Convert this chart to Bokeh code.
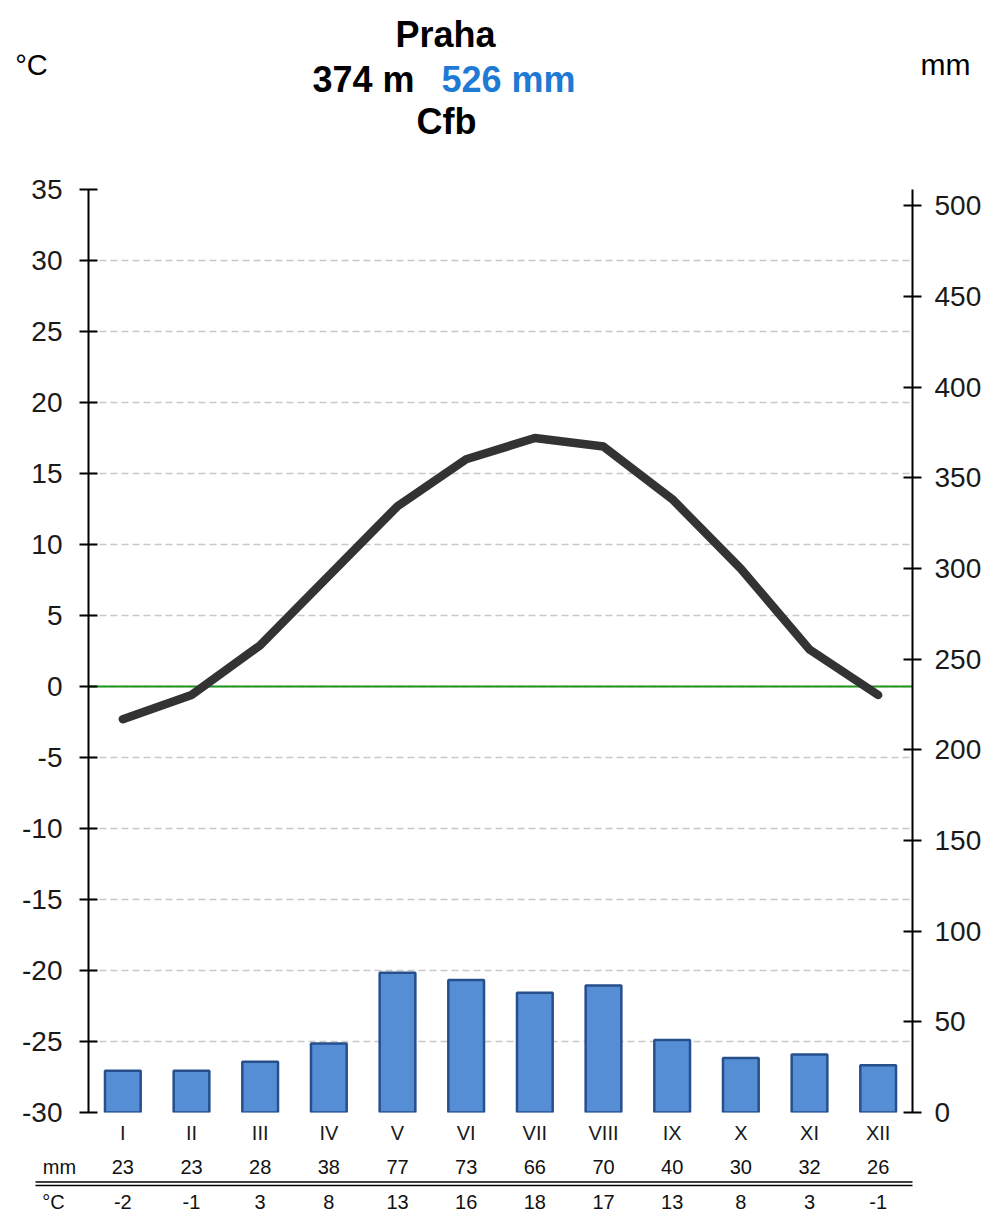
from bokeh.plotting import figure
from bokeh.models import Range1d, LinearAxis, FixedTicker, Span
from bokeh.layouts import column
from bokeh.core.properties import value
from bokeh.embed import file_html
from bokeh.resources import INLINE

# ---------------- data ----------------
station = "Praha"
elevation = "374 m"
total_precip = "526 mm"
climate = "Cfb"
months = ["I", "II", "III", "IV", "V", "VI", "VII", "VIII", "IX", "X", "XI", "XII"]
temp = [-2.3, -0.6, 2.9, 7.8, 12.7, 16.0, 17.5, 16.9, 13.2, 8.3, 2.6, -0.6]
precip = [23, 23, 28, 38, 77, 73, 66, 70, 40, 30, 32, 26]
temp_table = [-2, -1, 3, 8, 13, 16, 18, 17, 13, 8, 3, -1]
temp_ticks = list(range(-30, 36, 5))
precip_ticks = list(range(0, 501, 50))

FONT = "Liberation Sans"

# ---------------- layout constants (page pixels) ----------------
W = 985
TITLE_H = 150
FRAME_L, FRAME_R = 88, 912
FRAME_T, FRAME_B = 189, 1112
MAIN_B = 1145
TABLE_H = 68
FW = FRAME_R - FRAME_L
FH = FRAME_B - FRAME_T
PX_PER_X = FW / 12.0


def xd(page_x):
    return (page_x - FRAME_L) / PX_PER_X


xs = [i + 0.5 for i in range(len(months))]

# ---------------- title strip ----------------
tt = figure(width=W, height=TITLE_H, x_range=Range1d(0, W), y_range=Range1d(TITLE_H, 0),
            x_axis_location=None, y_axis_location=None, min_border=0,
            output_backend="svg", toolbar_location=None)
tt.frame_align = False
tt.outline_line_color = None
tt.grid.visible = False


def ttext(x, y, s, size, bold=False, color="black", align="center"):
    tt.text(x=[x], y=[y], text=[s], text_font=value(FONT), text_font_size=size,
            text_font_style="bold" if bold else "normal", text_color=color,
            text_align=align, text_baseline="middle")


ttext(445, 34, station, "36px", bold=True)
ttext(414, 79, elevation, "36px", bold=True, align="right")
ttext(441, 79, total_precip, "36px", bold=True, color="#1f7ad4", align="left")
ttext(446, 121, climate, "36px", bold=True)
ttext(31, 64, "°C", "29px")
ttext(945, 64, "mm", "30px")

# ---------------- main chart ----------------
p = figure(frame_width=FW, frame_height=FH,
           min_border_left=FRAME_L, min_border_right=W - FRAME_R,
           min_border_top=FRAME_T - TITLE_H, min_border_bottom=MAIN_B - FRAME_B,
           x_range=Range1d(0, 12), y_range=Range1d(-30, 35),
           output_backend="svg", toolbar_location=None)
p.frame_align = False
p.outline_line_color = None
p.extra_y_ranges = {"mm": Range1d(0, 509)}

p.xgrid.visible = False
p.ygrid.ticker = FixedTicker(ticks=temp_ticks)
p.ygrid.grid_line_color = "#c8c8c8"
p.ygrid.grid_line_dash = "7 4"
p.ygrid.grid_line_width = 1.6


def style_y(ax, standoff):
    ax.axis_line_color = "black"
    ax.axis_line_width = 2
    ax.major_tick_line_color = "black"
    ax.major_tick_line_width = 2
    ax.major_tick_in = 9
    ax.major_tick_out = 9
    ax.minor_tick_line_color = None
    ax.major_label_standoff = standoff
    ax.major_label_text_font = FONT
    ax.major_label_text_font_size = "28px"
    ax.major_label_text_color = "#1a1a1a"


ya = p.yaxis[0]
ya.ticker = FixedTicker(ticks=temp_ticks)
ya.major_label_overrides = {t: str(t) for t in temp_ticks}
style_y(ya, 17)

ra = LinearAxis(y_range_name="mm", ticker=FixedTicker(ticks=precip_ticks))
style_y(ra, 13)
p.add_layout(ra, "right")

xa = p.xaxis[0]
xa.ticker = FixedTicker(ticks=xs)
xa.major_label_overrides = {x: m for x, m in zip(xs, months)}
xa.axis_line_color = None
xa.major_tick_line_color = None
xa.minor_tick_line_color = None
xa.major_tick_in = 0
xa.major_tick_out = 0
xa.major_label_standoff = 9
xa.major_label_text_font = FONT
xa.major_label_text_font_size = "20px"
xa.major_label_text_color = "#1a1a1a"

p.vbar(x=xs, top=precip, bottom=0, width=0.52, y_range_name="mm",
       fill_color="#558ed5", line_color="#264f8c", line_width=2.5)

p.add_layout(Span(location=0, dimension="width", line_color="#1e961e",
                  line_width=2, level="underlay"))

p.line(xs, temp, line_color="#333333", line_width=8.5,
       line_join="round", line_cap="round")

# ---------------- table below ----------------
t = figure(width=W, height=TABLE_H,
           x_range=Range1d(xd(0), xd(W)), y_range=Range1d(TABLE_H, 0),
           x_axis_location=None, y_axis_location=None,
           min_border=0, output_backend="svg", toolbar_location=None)
t.frame_align = False
t.outline_line_color = None
t.grid.visible = False


def ty(page_y):
    return page_y - MAIN_B


row_mm = ty(1165)
row_c = ty(1200)
tstyle = dict(text_font=value(FONT), text_font_size="20px", text_color="#111111",
              text_align="center", text_baseline="middle")
t.text(x=xs, y=[row_mm] * 12, text=[str(v) for v in precip], **tstyle)
t.text(x=xs, y=[row_c] * 12, text=[str(v) for v in temp_table], **tstyle)
t.text(x=[xd(59), xd(53)], y=[row_mm, row_c], text=["mm", "°C"], **tstyle)
t.segment(x0=[xd(35), xd(35)], x1=[12, 12], y0=[ty(1180.5), ty(1184)],
          y1=[ty(1180.5), ty(1184)], line_color="black", line_width=1.6)

layout = column(tt, p, t, spacing=0)
open("out.html", "w").write(file_html(layout, INLINE))
